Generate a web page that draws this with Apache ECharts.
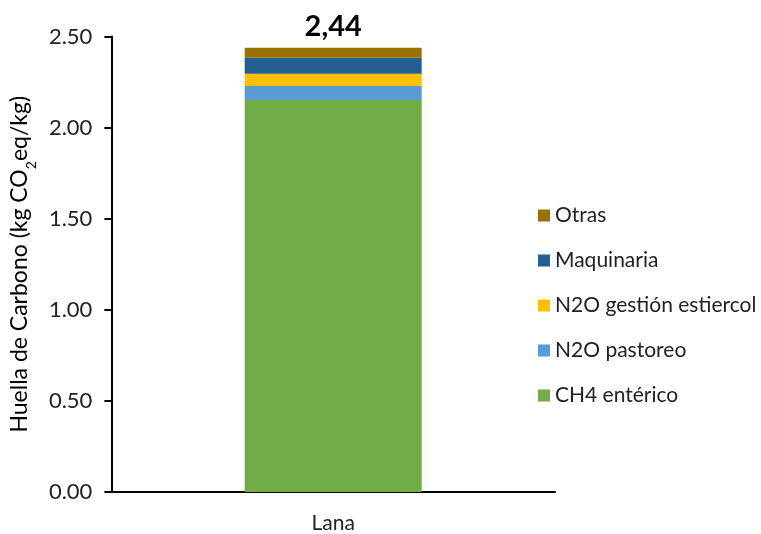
<!DOCTYPE html>
<html>
<head>
<meta charset="utf-8">
<title>Huella de Carbono - Lana</title>
<script src="https://cdn.jsdelivr.net/npm/echarts@6/dist/echarts.min.js"></script>
<style>
  html, body { margin: 0; padding: 0; background: #fff; }
  #chart { width: 761px; height: 534px; }
</style>
</head>
<body>
<div id="chart"></div>
<script>
// datos
const categories = ['Lana'];
const ch4Enterico = [2.151];
const n2oPastoreo = [0.077];
const n2oGestion = [0.067];
const maquinaria = [0.088];
const otras = [0.055];
const yTicks = [0, 0.5, 1, 1.5, 2, 2.5];

const FONT = 'Lato';

let chart = echarts.init(document.getElementById('chart'));

// total encima de la barra, con coma decimal
function totalLabel(i) {
  let t = ch4Enterico[i] + n2oPastoreo[i] + n2oGestion[i] + maquinaria[i] + otras[i];
  return t.toFixed(2).replace('.', ',');
}

function seg(name, data, color) {
  return {
    name: name,
    type: 'bar',
    stack: 'total',
    barWidth: 177,
    itemStyle: { color: color },
    data: data
  };
}

let series = [
  seg('CH4 entérico', ch4Enterico, '#70ad47'),
  seg('N2O pastoreo', n2oPastoreo, '#5b9bd5'),
  seg('N2O gestión estiercol', n2oGestion, '#ffc000'),
  seg('Maquinaria', maquinaria, '#255e91'),
  seg('Otras', otras, '#9a7200')
];
series[4].label = {
  show: true,
  position: 'top',
  distance: 7,
  fontFamily: FONT,
  fontSize: 29,
  fontWeight: 'bold',
  color: '#000',
  formatter: (p) => totalLabel(p.dataIndex)
};

let option = {
  animation: false,
  backgroundColor: '#fff',
  grid: { left: 111, right: 206, top: 36.5, bottom: 42 },
  legend: {
    orient: 'vertical',
    left: 533,
    top: 200,
    itemWidth: 12,
    itemHeight: 12,
    itemGap: 24,
    icon: 'rect',
    data: ['Otras', 'Maquinaria', 'N2O gestión estiercol', 'N2O pastoreo', 'CH4 entérico'],
    textStyle: { fontFamily: FONT, fontSize: 21, color: '#222' }
  },
  xAxis: {
    type: 'category',
    data: categories,
    axisLine: { lineStyle: { color: '#000', width: 2 } },
    axisTick: { show: false },
    axisLabel: { fontFamily: FONT, fontSize: 21, color: '#222', margin: 21 }
  },
  yAxis: {
    type: 'value',
    min: yTicks[0],
    max: yTicks[yTicks.length - 1],
    interval: 0.5,
    name: 'Huella de Carbono (kg CO{sub|2}eq/kg)',
    nameLocation: 'middle',
    nameGap: 67,
    nameTextStyle: {
      fontFamily: FONT,
      fontSize: 23,
      color: '#000',
      rich: {
        sub: { fontFamily: FONT, fontSize: 14, color: '#000', verticalAlign: 'bottom', padding: [0, 0, -7, 0] }
      }
    },
    axisLine: { show: true, lineStyle: { color: '#000', width: 2 } },
    axisTick: { show: true, length: 7, lineStyle: { color: '#000', width: 2 } },
    splitLine: { show: false },
    axisLabel: {
      fontFamily: FONT,
      fontSize: 22,
      color: '#222',
      margin: 19,
      formatter: (v) => v.toFixed(2)
    }
  },
  series: series
};

chart.setOption(option);
</script>
</body>
</html>
